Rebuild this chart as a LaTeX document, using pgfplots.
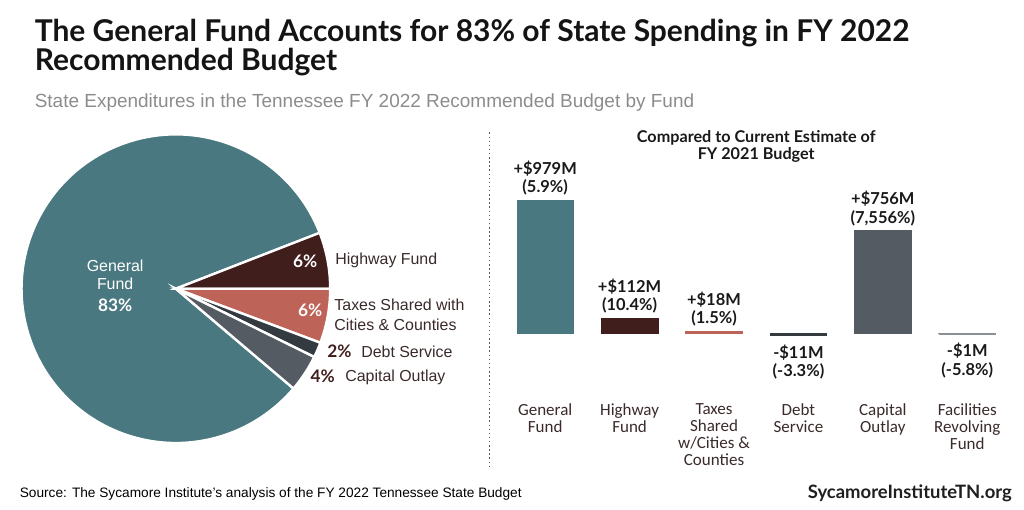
\documentclass[border=0pt]{standalone}
\usepackage{pgfplots}
\pgfplotsset{compat=1.18}
\usepackage{fontspec}
\setmainfont{Liberation Sans}
\newfontfamily\latofont{Lato}
\newfontfamily\calfont{Carlito}
\definecolor{gfcol}{HTML}{4A7880}
\definecolor{hwycol}{HTML}{401E1C}
\definecolor{taxcol}{HTML}{BE6358}
\definecolor{debtcol}{HTML}{343B40}
\definecolor{capcol}{HTML}{545B62}
\definecolor{faccol}{HTML}{8A9096}
\definecolor{labcol}{HTML}{3A2A2A}
\definecolor{subcol}{HTML}{8C8C8C}
\begin{document}
\begin{tikzpicture}
% ---------- Pie chart (shares of FY 2022 spending, %) ----------
% Capital 3.9, Debt 1.6, Taxes 5.7, Highway 5.9, General 82.9 ; start at -40.32 deg
\begin{axis}[at={(12.75pt,-333.75pt)}, anchor=south west, scale only axis,
  width=232.5pt, height=232.5pt, xmin=-1, xmax=1, ymin=-1, ymax=1,
  hide axis, clip=false]
\addplot[draw=none] coordinates {(0,0)};
\fill[gfcol, draw=white, line width=1.8pt] (axis cs:0,0) -- ++(21.24:116.25pt) arc[start angle=21.24, end angle=319.68, radius=116.25pt] -- cycle;
\fill[hwycol, draw=white, line width=1.8pt] (axis cs:0,0) -- ++(0:116.25pt) arc[start angle=0, end angle=21.24, radius=116.25pt] -- cycle;
\fill[taxcol, draw=white, line width=1.8pt] (axis cs:0,0) -- ++(-20.52:116.25pt) arc[start angle=-20.52, end angle=0, radius=116.25pt] -- cycle;
\fill[debtcol, draw=white, line width=1.8pt] (axis cs:0,0) -- ++(-26.28:116.25pt) arc[start angle=-26.28, end angle=-20.52, radius=116.25pt] -- cycle;
\fill[capcol, draw=white, line width=1.8pt] (axis cs:0,0) -- ++(-40.32:116.25pt) arc[start angle=-40.32, end angle=-26.28, radius=116.25pt] -- cycle;
\end{axis}
% ---------- Bar chart (change vs FY 2021, $M) ----------
\begin{axis}[at={(375.45pt,-295.43pt)}, anchor=south west, scale only axis,
  width=381.6pt, height=146.85pt, xmin=-0.5, xmax=5.5, ymin=-430, ymax=1000,
  axis line style={draw=none}, ytick=\empty, xtick={0,1,2,3,4,5},
  xticklabels={General\\Fund, Highway\\Fund, Taxes\\Shared\\w/Cities \&\\Counties, Debt\\Service, Capital\\Outlay, Facilities\\Revolving\\Fund},
  major tick length=0pt,
  xticklabel style={align=center, font=\calfont\fontsize{12.8}{12.9}\selectfont, text=labcol, yshift=-5pt},
  clip=false, ybar, bar width=42.75pt, bar shift=0pt,
  nodes near coords style={font=\latofont\bfseries\fontsize{12.4}{14}\selectfont, align=center, text=black!90}]
\addplot[fill=gfcol, draw=gfcol, nodes near coords={+\$979M\\(5.9\%)}] coordinates {(0,979)};
\addplot[fill=hwycol, draw=hwycol, nodes near coords={+\$112M\\(10.4\%)}] coordinates {(1,112)};
\addplot[fill=taxcol, draw=taxcol, line width=0.6pt, nodes near coords={+\$18M\\(1.5\%)}] coordinates {(2,18)};
\addplot[fill=debtcol, draw=debtcol, line width=0.6pt, nodes near coords={-\$11M\\(-3.3\%)}, every node near coord/.append style={yshift=-3.5pt}] coordinates {(3,-11)};
\addplot[fill=capcol, draw=capcol, nodes near coords={+\$756M\\(7,556\%)}] coordinates {(4,756)};
\addplot[fill=faccol, draw=faccol, line width=0.6pt, nodes near coords={-\$1M\\(-5.8\%)}, every node near coord/.append style={yshift=-3.5pt}] coordinates {(5,-1)};
\end{axis}
% ---------- Texts ----------
\begin{scope}[x=0.75pt,y=-0.75pt]
\path[use as bounding box] (0,0) rectangle (1024,512);
\node[anchor=base west, inner sep=0, font=\latofont\bfseries\fontsize{22.6}{23}\selectfont, text=black!92] at (30,42) {The General Fund Accounts for 83\% of State Spending in FY 2022};
\node[anchor=base west, inner sep=0, font=\latofont\bfseries\fontsize{22.6}{23}\selectfont, text=black!92] at (30,71) {Recommended Budget};
\node[anchor=base west, inner sep=0, font=\fontsize{14.3}{15}\selectfont, text=subcol] at (30,108) {State Expenditures in the Tennessee FY 2022 Recommended Budget by Fund};
% pie labels
\node[text=white, font=\fontsize{12}{12}\selectfont] at (111,267) {General};
\node[text=white, font=\fontsize{12}{12}\selectfont] at (111,285) {Fund};
\node[text=white, font=\latofont\bfseries\fontsize{13}{13}\selectfont] at (111,307) {83\%};
\node[text=white, font=\latofont\bfseries\fontsize{13}{13}\selectfont] at (302,262) {6\%};
\node[anchor=west, inner sep=0, text=labcol, font=\fontsize{12}{12}\selectfont] at (332,262) {Highway Fund};
\node[text=white, font=\latofont\bfseries\fontsize{13}{13}\selectfont] at (307,312) {6\%};
\node[anchor=west, inner sep=0, text=labcol, font=\fontsize{12}{12}\selectfont] at (331,306) {Taxes Shared with};
\node[anchor=west, inner sep=0, text=labcol, font=\fontsize{12}{12}\selectfont] at (331,326) {Cities \& Counties};
\node[anchor=west, inner sep=0, text=hwycol, font=\latofont\bfseries\fontsize{13}{13}\selectfont] at (324,353) {2\%};
\node[anchor=west, inner sep=0, text=labcol, font=\fontsize{12}{12}\selectfont] at (358,353) {Debt Service};
\node[anchor=west, inner sep=0, text=hwycol, font=\latofont\bfseries\fontsize{13}{13}\selectfont] at (307,378) {4\%};
\node[anchor=west, inner sep=0, text=labcol, font=\fontsize{12}{12}\selectfont] at (342,379) {Capital Outlay};
% separator
\draw[black!65, dotted, line width=1.1pt] (487,133) -- (487,470);
% bar chart title
\node[font=\latofont\bfseries\fontsize{12.2}{12}\selectfont, text=black!90] at (755,138) {Compared to Current Estimate of};
\node[font=\latofont\bfseries\fontsize{12.2}{12}\selectfont, text=black!90] at (755,156) {FY 2021 Budget};
% footer
\node[anchor=west, inner sep=0, font=\fontsize{10.3}{10.5}\selectfont, text=black] at (15,496) {Source: The Sycamore Institute's analysis of the FY 2022 Tennessee State Budget};
\node[anchor=east, inner sep=0, font=\latofont\bfseries\fontsize{13.9}{14}\selectfont, text=black!88] at (1012,496) {SycamoreInstituteTN.org};
\end{scope}
\end{tikzpicture}
\end{document}
